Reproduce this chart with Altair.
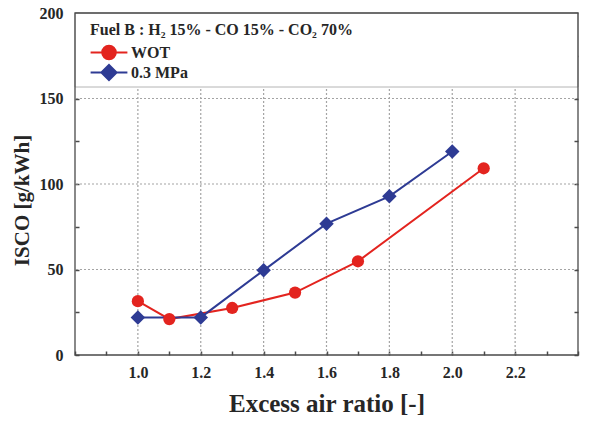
import altair as alt
import pandas as pd

# ---- data ----
series_names = ["WOT", "0.3 MPa"]
series_colors = ["#e3241f", "#2e3b94"]

wot_ratio = [1.0, 1.1, 1.3, 1.5, 1.7, 2.1]
wot_isco = [31.5, 21.0, 27.5, 36.5, 54.8, 109.2]

mpa_ratio = [1.0, 1.2, 1.4, 1.6, 1.8, 2.0]
mpa_isco = [22.0, 22.0, 49.5, 76.8, 92.8, 119.0]

x_ticks = [0.8, 0.9, 1.0, 1.1, 1.2, 1.3, 1.4, 1.5, 1.6, 1.7, 1.8, 1.9, 2.0, 2.1, 2.2, 2.3, 2.4]
x_labels = [1.0, 1.2, 1.4, 1.6, 1.8, 2.0, 2.2]
y_ticks = [0, 25, 50, 75, 100, 125, 150, 175, 200]
y_labels = [0, 50, 100, 150, 200]
y_grid = [50, 100, 150]

legend_title = "Fuel B : H\u2082 15% - CO 15% - CO\u2082 70%"

# ---- styling ----
W, H = 503, 342
FONT = "Liberation Serif"
TXT = "#262626"
AXC = "#4a4a4a"
GRID = "#a4a4a4"
TK = 4

df = pd.DataFrame({
    "ratio": wot_ratio + mpa_ratio,
    "isco": wot_isco + mpa_isco,
    "series": ["WOT"] * len(wot_ratio) + ["0.3 MPa"] * len(mpa_ratio),
})
gx = pd.DataFrame({"gx": x_labels})
gy = pd.DataFrame({"gy": y_grid})

x_scale = alt.Scale(domain=[0.8, 2.4], nice=False, zero=False)
y_scale = alt.Scale(domain=[0, 200], nice=False)

x_axis = alt.Axis(
    values=x_ticks,
    labelExpr=f"indexof({x_labels}, datum.value) >= 0 ? format(datum.value, '.1f') : ''",
    tickSize=TK, offset=-TK, domain=False, tickColor=AXC, tickWidth=1.5,
    labelPadding=9, labelFont=FONT, labelFontSize=16, labelFontWeight="bold",
    labelColor=TXT, labelOverlap=False, labelFlush=False, grid=False,
    title="Excess air ratio [-]", titleFont=FONT, titleFontSize=25,
    titleFontWeight="bold", titleColor=TXT, titleBaseline="alphabetic",
    titleY=60,
)

y_axis_left = alt.Axis(
    orient="left", values=y_ticks,
    labelExpr=f"indexof({y_labels}, datum.value) >= 0 ? format(datum.value, 'd') : ''",
    tickSize=TK, offset=-TK, domain=False, tickColor=AXC, tickWidth=1.5,
    labelPadding=12, labelFont=FONT, labelFontSize=16, labelFontWeight="bold",
    labelColor=TXT, labelOverlap=False, labelFlush=False, grid=False,
    title="ISCO [g/kWh]", titleFont=FONT, titleFontSize=21,
    titleFontWeight="bold", titleColor=TXT, titleAngle=270,
    titleBaseline="middle", titleX=-57, titleY=187,
)

y_axis_right = alt.Axis(
    orient="right", values=y_ticks, labels=False, tickSize=TK, offset=-TK,
    domain=False, grid=False, tickColor=AXC, tickWidth=1.5, title=None,
)

X = alt.X("ratio:Q", scale=x_scale, axis=x_axis)

# dotted grid lines at the labelled ticks (drawn through the scales)
grid_x = alt.Chart(gx).mark_rule(
    color=GRID, strokeDash=[2, 2], strokeWidth=1.2
).encode(x=alt.X("gx:Q", scale=x_scale, axis=x_axis))
grid_y = alt.Chart(gy).mark_rule(
    color=GRID, strokeDash=[2, 2], strokeWidth=1.2
).encode(y=alt.Y("gy:Q", scale=y_scale, axis=None))

base = alt.Chart(df)

line_wot = base.transform_filter(alt.datum.series == "WOT").mark_line(
    color=series_colors[0], strokeWidth=2
).encode(x=X, y=alt.Y("isco:Q", scale=y_scale, axis=y_axis_left))

line_mpa = base.transform_filter(alt.datum.series == "0.3 MPa").mark_line(
    color=series_colors[1], strokeWidth=2
).encode(x=X, y=alt.Y("isco:Q", scale=y_scale, axis=y_axis_right))

pts_mpa = base.transform_filter(alt.datum.series == "0.3 MPa").mark_point(
    shape="diamond", filled=True, size=210, color=series_colors[1], opacity=1
).encode(x=X, y=alt.Y("isco:Q", scale=y_scale, axis=None))

pts_wot = base.transform_filter(alt.datum.series == "WOT").mark_point(
    shape="circle", filled=True, size=150, color=series_colors[0], opacity=1
).encode(x=X, y=alt.Y("isco:Q", scale=y_scale, axis=None))

# legend symbols: a line with the marker on it
circle_path = "M-2.3,0L2.3,0M-0.85,0A0.85,0.85,0,1,1,0.85,0A0.85,0.85,0,1,1,-0.85,0Z"
diamond_path = "M-2.3,0L2.3,0M-0.95,0L0,-0.95L0.95,0L0,0.95Z"

legend = alt.Legend(
    title=legend_title, orient="none", legendX=15, legendY=8.5, direction="vertical",
    padding=0, symbolSize=256, symbolStrokeWidth=2, symbolOffset=10,
    labelOffset=13, rowPadding=-3, titlePadding=6, titleLimit=500,
    titleFont=FONT, titleFontSize=16, titleFontWeight="bold", titleColor=TXT,
    labelFont=FONT, labelFontSize=16, labelFontWeight="bold", labelColor=TXT,
)
col_scale = alt.Scale(domain=series_names, range=series_colors)
shp_scale = alt.Scale(domain=series_names, range=[circle_path, diamond_path])

legend_layer = base.transform_filter("false").mark_point(
    filled=True, opacity=1, strokeWidth=2
).encode(
    color=alt.Color("series:N", scale=col_scale, legend=legend, title=legend_title),
    stroke=alt.Stroke("series:N", scale=col_scale, legend=legend, title=legend_title),
    shape=alt.Shape("series:N", scale=shp_scale, legend=legend, title=legend_title),
)

one = alt.Data(values=[{"k": 1}])
legend_box = alt.Chart(one).mark_rect(
    fill="white", stroke="#b4b4b4", strokeWidth=1
).encode(x=alt.value(0), x2=alt.value(W), y=alt.value(0), y2=alt.value(74))

border = alt.Chart(one).mark_rect(
    fill="transparent", stroke=AXC, strokeWidth=1.3
).encode(x=alt.value(0), x2=alt.value(W), y=alt.value(0), y2=alt.value(H))

chart = alt.layer(
    grid_x, grid_y, line_wot, line_mpa, pts_mpa, pts_wot, legend_layer, legend_box, border
).resolve_axis(y="independent").properties(
    width=W, height=H,
    autosize=alt.AutoSizeParams(type="none"),
    padding={"left": 75, "top": 13, "right": 21, "bottom": 67},
    background="white",
).configure_view(stroke=None)

chart.save("out.html", embed_options={"renderer": "svg", "actions": False})
